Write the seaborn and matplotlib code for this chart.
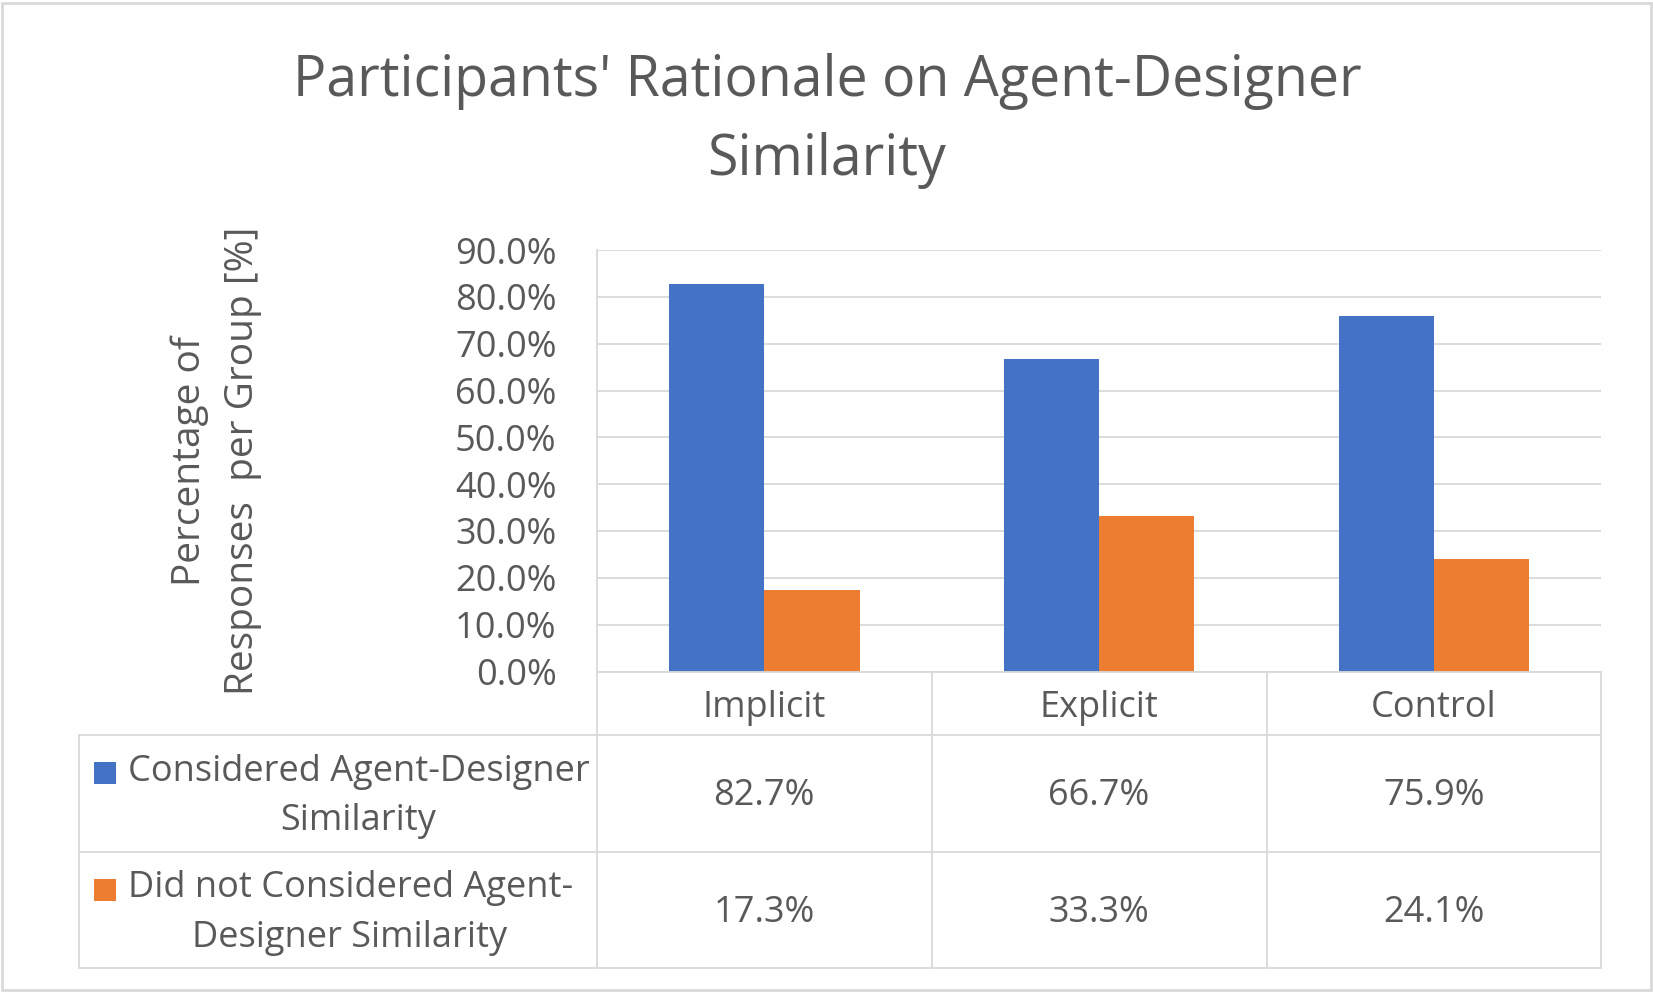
import pandas as pd
import matplotlib
matplotlib.use("Agg")
import matplotlib.pyplot as plt
from matplotlib.patches import Rectangle
from matplotlib.lines import Line2D
from matplotlib.ticker import FuncFormatter
import seaborn as sns

# chart data
groups = ["Implicit", "Explicit", "Control"]
series = ["Considered Agent-Designer\nSimilarity",
          "Did not Considered Agent-\nDesigner Similarity"]
considered = [82.7, 66.7, 75.9]
not_considered = [17.3, 33.3, 24.1]
y_ticks = [0, 10, 20, 30, 40, 50, 60, 70, 80, 90]

colors = ["#4472C4", "#ED7D31"]
text_color = "#595959"
line_color = "#D9D9D9"

df = pd.DataFrame({
    "group": groups * 2,
    "response": [series[0]] * 3 + [series[1]] * 3,
    "value": considered + not_considered,
})

sns.set_style("white")
plt.rcParams["font.family"] = ["Open Sans", "DejaVu Sans"]

W, H = 1653, 993
fig = plt.figure(figsize=(W / 100, H / 100), dpi=100)


def fx(x):
    return x / W


def fy(y):
    return 1 - y / H


# plot area in pixels (left, top, right, bottom)
left, top, right, bottom = 596.7, 250.0, 1601.4, 671.5
ax = fig.add_axes([fx(left), fy(bottom), fx(right) - fx(left), fy(top) - fy(bottom)])

sns.barplot(data=df, x="group", y="value", hue="response", palette=colors,
            width=0.57, saturation=1, legend=False, ax=ax, linewidth=0)

ax.set_xlim(-0.5, 2.5)
ax.set_ylim(0, 90)
ax.set_yticks(y_ticks)
ax.yaxis.set_major_formatter(FuncFormatter(lambda v, p: f"{v:.1f}%"))
ax.grid(axis="y", color=line_color, linewidth=1.3)
ax.set_axisbelow(True)
for s in ["top", "right", "bottom"]:
    ax.spines[s].set_visible(False)
ax.spines["left"].set_color(line_color)
ax.spines["left"].set_linewidth(1.3)
ax.tick_params(axis="y", length=0, pad=29, labelsize=26, labelcolor=text_color)
ax.tick_params(axis="x", length=0, pad=26, labelsize=26, labelcolor=text_color)
for lab in ax.get_xticklabels():
    lab.set_verticalalignment("center")
ax.set_xlabel("")
ax.set_ylabel("Percentage of\nResponses  per Group [%]", fontsize=28,
              color=text_color, va="center", linespacing=1.5)
ax.yaxis.set_label_coords((216 - left) / (right - left), 0.5)

# data table below the axis
row_lines = [734.8, 851.8, 967.7]
tab_left = 79
col_x = [left + (right - left) * k / 3 for k in range(4)]
for y in row_lines:
    fig.add_artist(Line2D([fx(tab_left), fx(right)], [fy(y), fy(y)],
                          color=line_color, linewidth=1.3))
fig.add_artist(Line2D([fx(left), fx(right)], [fy(bottom), fy(bottom)],
                      color=line_color, linewidth=1.3))
fig.add_artist(Line2D([fx(tab_left), fx(tab_left)], [fy(row_lines[0]), fy(row_lines[-1])],
                      color=line_color, linewidth=1.3))
for x in col_x:
    fig.add_artist(Line2D([fx(x), fx(x)], [fy(bottom), fy(row_lines[-1])],
                          color=line_color, linewidth=1.3))

row_tops = [row_lines[0], row_lines[1]]
row_bottoms = [row_lines[1], row_lines[2]]
for r, vals in enumerate([considered, not_considered]):
    yc = (row_tops[r] + row_bottoms[r]) / 2 + 3
    for i, v in enumerate(vals):
        xc = (col_x[i] + col_x[i + 1]) / 2
        fig.text(fx(xc), fy(yc), f"{v:.1f}%", ha="center", va="center",
                 fontsize=26, color=text_color)
    fig.text(fx(127.5), fy(yc), series[r], ha="left", va="center",
             multialignment="center", fontsize=26, color=text_color, linespacing=1.5)
    line1_y = yc - 23
    fig.add_artist(Rectangle((fx(94), fy(line1_y + 11)), fx(22), 22 / H,
                             facecolor=colors[r], edgecolor="none"))

fig.text(0.5003, fy(121), "Participants' Rationale on Agent-Designer\nSimilarity",
         ha="center", va="center", fontsize=40, color=text_color, linespacing=1.5)

# outer border
fig.add_artist(Rectangle((fx(2), fy(990)), fx(1649), 987 / H, fill=False,
                         edgecolor=line_color, linewidth=2))

fig.savefig("out.png", dpi=100)
